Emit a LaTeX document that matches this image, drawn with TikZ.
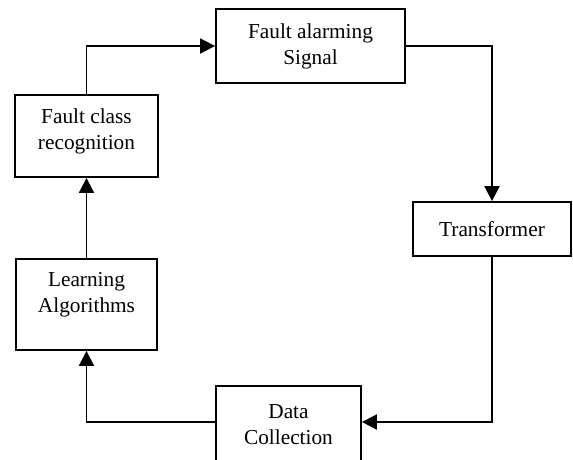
\documentclass[tikz,border=0pt]{standalone}
\usepackage{fontspec}
\setmainfont{Liberation Serif}
\usetikzlibrary{arrows.meta}

\begin{document}
\begin{tikzpicture}[x=1pt, y=-1pt,
	block/.style={draw, line width=1.8pt, align=center, inner sep=0pt,
		font=\fontsize{21.3}{26}\selectfont},
	flow/.style={line width=1.8pt, -{Triangle[length=15pt, width=15pt]}}]

		\useasboundingbox (0,0) rectangle (573,459);

		% Define the nodes
		\node[block, minimum width=189pt, minimum height=74pt] (signal) at (310.5,46) {Fault alarming\\Signal};
		\node[block, minimum width=143pt, minimum height=82pt, text depth=14pt] (recog) at (86.5,136) {Fault class\\recognition};
		\node[block, minimum width=158pt, minimum height=54pt] (transformer) at (492,229) {Transformer};
		\node[block, minimum width=141pt, minimum height=91pt, text depth=24pt] (learning) at (86.5,304.5) {Learning\\Algorithms};
		\node[block, minimum width=145pt, minimum height=78pt] (data) at (288.5,425) {Data\\Collection};

		% Define the edges
		\draw[flow] (recog.north) |- (signal.west);
		\draw[flow] (signal.east) -| (transformer.north);
		\draw[flow] (transformer.south) |- ([yshift=3pt]data.east);
		\draw[flow] ([yshift=3pt]data.west) -| (learning.south);
		\draw[flow] (learning.north) -- (recog.south);

	\end{tikzpicture}
\end{document}
